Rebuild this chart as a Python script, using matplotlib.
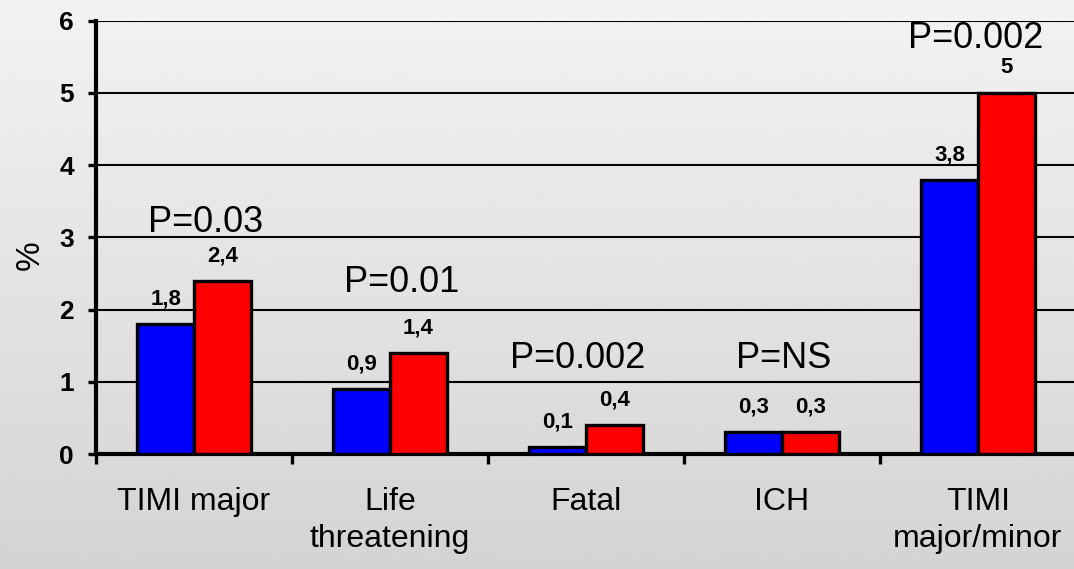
"""Bleeding endpoints, grouped bars with P values.
"""
import numpy as np
import matplotlib
matplotlib.use('Agg')
import matplotlib.pyplot as plt

plt.rcParams['font.family'] = ['Liberation Sans', 'DejaVu Sans']

categories = ['TIMI major', 'Life\nthreatening', 'Fatal', 'ICH', 'TIMI\nmajor/minor']
blue_vals = [1.8, 0.9, 0.1, 0.3, 3.8]
red_vals = [2.4, 1.4, 0.4, 0.3, 5.0]
blue_text = ['1,8', '0,9', '0,1', '0,3', '3,8']
red_text = ['2,4', '1,4', '0,4', '0,3', '5']
p_labels = ['P=0.03', 'P=0.01', 'P=0.002', 'P=NS', 'P=0.002']

# where the P value labels sit (baseline height, shift from group centre)
p_height = [3.08, 2.25, 1.19, 1.19, 5.62]
p_shift = [0.06, 0.06, -0.04, 0.01, -0.01]

W, H = 1074, 569
fig = plt.figure(figsize=(W / 100, H / 100), dpi=100)

# light grey vertical gradient behind everything
bg = fig.add_axes([0, 0, 1, 1], zorder=-1)
grad = np.linspace(0.95, 0.83, 256).reshape(-1, 1)
bg.imshow(grad, aspect='auto', cmap='gray', vmin=0, vmax=1,
          extent=[0, 1, 0, 1])
bg.axis('off')

left, right = 96 / W, 1076 / W
bottom, top = 1 - 454 / H, 1 - 20.7 / H
ax = fig.add_axes([left, bottom, right - left, top - bottom])
ax.set_facecolor('none')

x = np.arange(len(categories))
bw = 0.29
ax.bar(x - bw / 2, blue_vals, bw, color='#0000ff', edgecolor='black',
       linewidth=2.4, zorder=3)
ax.bar(x + bw / 2, red_vals, bw, color='#ff0000', edgecolor='black',
       linewidth=2.4, zorder=3)

for i in range(len(categories)):
    ax.annotate(blue_text[i], (x[i] - bw / 2, blue_vals[i]),
                xytext=(0, 14), textcoords='offset points', ha='center',
                va='baseline', fontsize=16, fontweight='bold')
    ax.annotate(red_text[i], (x[i] + bw / 2, red_vals[i]),
                xytext=(0, 14), textcoords='offset points', ha='center',
                va='baseline', fontsize=16, fontweight='bold')
    ax.text(x[i] + p_shift[i], p_height[i], p_labels[i], ha='center',
            va='baseline', fontsize=26)

ax.set_xlim(-0.5, len(categories) - 0.5)
ax.set_ylim(0, 6)
ax.set_yticks(range(0, 7))
ax.yaxis.grid(True, color='black', linewidth=1.5)
ax.set_axisbelow(True)

# labels under the groups, ticks between them
ax.set_xticks(x)
ax.set_xticklabels(categories, fontsize=23, linespacing=1.3)
ax.tick_params(axis='x', which='major', length=0, pad=24)
ax.set_xticks(np.arange(-0.5, len(categories)), minor=True)
ax.tick_params(axis='x', which='minor', length=7, width=2.4, direction='out')
ax.tick_params(axis='y', length=6, width=2.4, pad=10, labelsize=19)
for lab in ax.get_yticklabels():
    lab.set_fontweight('bold')

for side in ['top', 'right']:
    ax.spines[side].set_visible(False)
for side in ['left', 'bottom']:
    ax.spines[side].set_linewidth(3)

fig.text(30 / W, 1 - 255 / H, '%', rotation=90, ha='center', va='center',
         fontsize=24)

fig.savefig('out.png', dpi=100)
